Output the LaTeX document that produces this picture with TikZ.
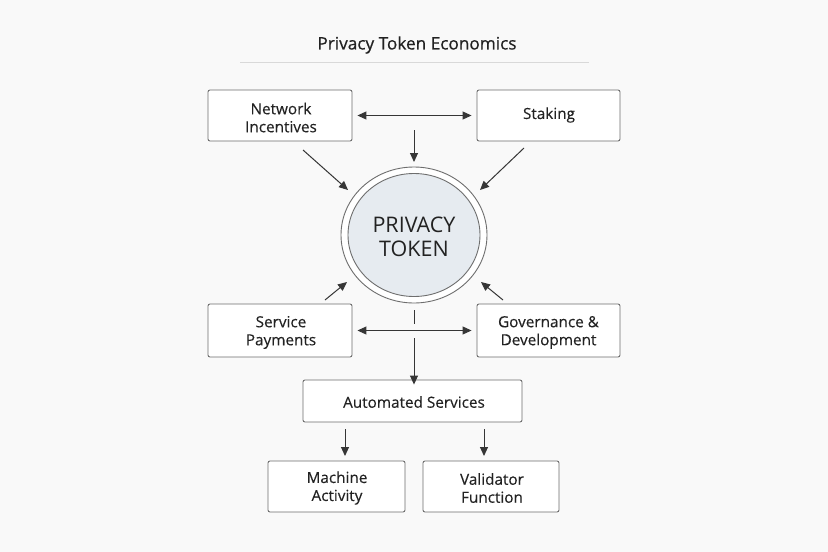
\documentclass[tikz,border=0pt]{standalone}
\usepackage{fontspec}
\setmainfont{Open Sans}
\newfontfamily\titlefont[FakeBold=0.6]{Open Sans}
\newfontfamily\boxfont[FakeBold=0.2]{Open Sans}
\usetikzlibrary{arrows.meta,shapes.geometric}
\definecolor{bg}{HTML}{F9F9F9}
\definecolor{txt}{HTML}{222222}
\definecolor{boxline}{HTML}{6E6E6E}
\definecolor{arr}{HTML}{363636}
\definecolor{tokfill}{HTML}{E6EBF0}
\tikzset{
  box/.style={draw=boxline, line width=0.9pt, fill=white, rounded corners=2pt, inner sep=0pt},
  boxtext/.style={text=txt, align=center, font=\boxfont\fontsize{15.3}{19}\selectfont, inner sep=0pt},
  arrowline/.style={draw=arr, line width=1pt, -{Triangle[length=9pt,width=8pt]}},
  darrow/.style={draw=arr, line width=1pt, {Triangle[length=9pt,width=8pt]}-{Triangle[length=9pt,width=8pt]}},
}
\begin{document}
\begin{tikzpicture}[x=1pt,y=-1pt]
\fill[bg] (0,0) rectangle (828,552);
\useasboundingbox (0,0) rectangle (828,552);
% title
\node[text=txt, font=\titlefont\fontsize{17.2}{20}\selectfont] (title) at (417,45) {Privacy Token Economics};
\coordinate (tl) at (240,62); \coordinate (tr) at (589,62);
\draw[draw=black!15, line width=1pt] (tl) -- (tr);
% boxes
\node[box, minimum width=144pt, minimum height=51pt] (ni) at (280,115.5) {};
\node[box, minimum width=143pt, minimum height=51pt] (st) at (548.5,115.5) {};
\node[box, minimum width=144pt, minimum height=53pt] (sp) at (280,330.5) {};
\node[box, minimum width=143pt, minimum height=53pt] (gd) at (548.5,330.5) {};
\node[box, minimum width=219pt, minimum height=42pt] (as) at (412.5,401) {};
\node[box, minimum width=137pt, minimum height=51pt] (ma) at (336.5,486.5) {};
\node[box, minimum width=136pt, minimum height=51pt] (vf) at (491,486.5) {};
\node[boxtext] (nit) at (281,117.5) {Network\\[-1pt]Incentives};
\node[boxtext] (stt) at (549,115) {Staking};
\node[boxtext] (spt) at (281,332.5) {Service\\[-1pt]Payments};
\node[boxtext] (gdt) at (548.5,332.5) {Governance \&\\[-1pt]Development};
\node[boxtext] (ast) at (414,402) {Automated Services};
\node[boxtext] (mat) at (337,488) {Machine\\[-1pt]Activity};
\node[boxtext] (vft) at (492,488) {Validator\\[-1pt]Function};
% token
\node[draw=boxline, line width=0.9pt, fill=white, ellipse, minimum width=146pt, minimum height=136pt, inner sep=0pt] (tokout) at (414,235) {};
\node[draw=boxline, line width=0.9pt, fill=tokfill, ellipse, minimum width=132pt, minimum height=123pt, inner sep=0pt] (tok) at (414,235) {};
\node[text=txt, align=center, font=\fontsize{21.5}{24}\selectfont] (toklabel) at (414,237) {PRIVACY\\TOKEN};
% connectors
\draw[darrow] ([xshift=5pt]ni.east) -- ([xshift=-5pt]st.west);
\coordinate (d1s) at (414,130); \coordinate (d1e) at (414,162);
\draw[arrowline] (d1s) -- (d1e);
\coordinate (n1) at (303,150); \coordinate (n2) at (348,190);
\draw[arrowline] (n1) -- (n2);
\coordinate (s1) at (524,148); \coordinate (s2) at (480,190);
\draw[arrowline] (s1) -- (s2);
\coordinate (p1) at (325,300); \coordinate (p2) at (347,282);
\draw[arrowline] (p1) -- (p2);
\coordinate (g1) at (503,300); \coordinate (g2) at (481,282);
\draw[arrowline] (g1) -- (g2);
\draw[darrow] ([xshift=5pt]sp.east) -- ([xshift=-5pt]gd.west);
\coordinate (v1) at (414,310); \coordinate (v2) at (414,324);
\draw[draw=arr, line width=1pt] (v1) -- (v2);
\coordinate (v3) at (414,338);
\draw[arrowline] (v3) -- ([yshift=-5pt]as.north -| v3);
\coordinate (m1) at (345,429); \coordinate (m2) at (345,456);
\draw[arrowline] (m1) -- (m2);
\coordinate (f1) at (484,429); \coordinate (f2) at (484,456);
\draw[arrowline] (f1) -- (f2);
\end{tikzpicture}
\end{document}
